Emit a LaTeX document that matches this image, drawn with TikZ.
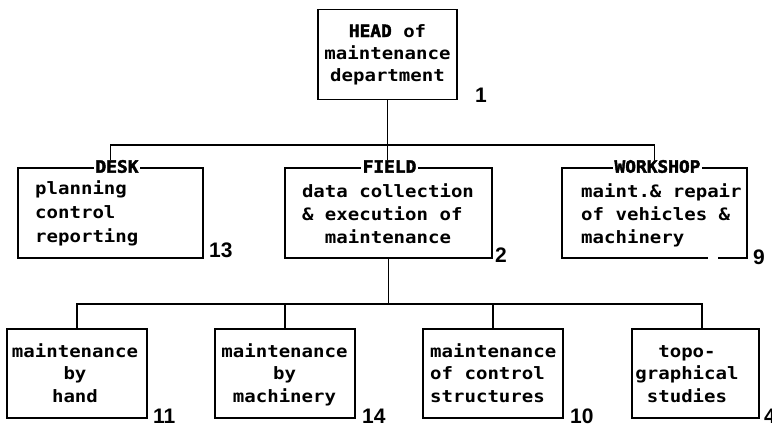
\documentclass[tikz,border=0pt]{standalone}
\usepackage{fontspec}
\newfontfamily\bodyfont{DejaVu Sans Mono}[FakeStretch=1.12]
\newfontfamily\hdrfont{DejaVu Sans Mono}[FakeStretch=1.05, BoldFeatures={FakeBold=2.5}]
\newfontfamily\numfont{Liberation Sans}
\begin{document}
\begin{tikzpicture}[x=1pt,y=-1pt,
  box/.style={draw, line width=1.8pt, inner sep=0pt},
  conn/.style={line width=1.8pt},
  txt/.style={font=\bodyfont\bfseries\fontsize{17}{23}\selectfont, inner sep=0pt},
  hdr/.style={fill=white, font=\hdrfont\bfseries\fontsize{17}{23}\selectfont, inner xsep=1.5pt, inner ysep=0pt},
  num/.style={font=\numfont\bfseries\fontsize{21}{24}\selectfont, inner sep=0pt, anchor=south west}
]
\useasboundingbox (0,0) rectangle (772,426);
% boxes
\node[box, minimum width=139pt, minimum height=90pt] (head) at (387.5,54.5) {};
\node[box, minimum width=185pt, minimum height=90pt] (desk) at (110.5,213) {};
\node[box, minimum width=207pt, minimum height=90pt] (field) at (388.5,213) {};
\node[inner sep=0pt, minimum width=185pt, minimum height=90pt] (wksp) at (654.5,213) {};
\draw[conn] (wksp.south west) ++(146,0) -- (wksp.south west) -- (wksp.north west)
  -- (wksp.north east) -- (wksp.south east) -- ++(-29,0);
\node[box, minimum width=140pt, minimum height=89pt] (m11) at (77,373.5) {};
\node[box, minimum width=140pt, minimum height=89pt] (m14) at (285,373.5) {};
\node[box, minimum width=140pt, minimum height=89pt] (m10) at (493,373.5) {};
\node[box, minimum width=127pt, minimum height=89pt] (m4) at (695.5,373.5) {};
\coordinate (b1) at (388,145);
\coordinate (b2) at (388,304);
\coordinate (c4) at (702,329);
% connectors
\draw[conn] (head.south) -- (head.south |- field.north);
\draw[conn] (desk.north) |- (b1) -| (wksp.north);
\draw[conn] (field.south) -- (field.south |- b2);
\draw[conn] (m11.north) |- (b2) -| (c4);
\draw[conn] (m14.north) -- (m14.north |- b2);
\draw[conn] (m10.north) -- (m10.north |- b2);
% headers
\node[hdr] (hdesk) at (117,166.5) {DESK};
\node[hdr] (hfield) at (389.5,166.5) {FIELD};
\node[hdr] (hwksp) at (657.5,166.5) {WORKSHOP};
% texts (base anchor = baseline of the last line)
\node[txt, align=center, anchor=base, font=\bodyfont\bfseries\fontsize{17}{22}\selectfont] (thead) at (387.5,81) {{\hdrfont\bfseries HEAD} of\\maintenance\\department};
\node[txt, align=left, anchor=base west, font=\bodyfont\bfseries\fontsize{17}{24}\selectfont] (tdesk) at (35,242) {planning\\control\\reporting};
\node[txt, align=center, anchor=base] (tfield) at (388,243) {data collection\\\& execution of\hphantom{x}\\maintenance};
\node[txt, align=left, anchor=base west] (twksp) at (581,243) {maint.\& repair\\of vehicles \&\\machinery};
\node[txt, align=center, anchor=base, font=\bodyfont\bfseries\fontsize{17}{22.5}\selectfont] (t11) at (75,402) {maintenance\\by\\hand};
\node[txt, align=center, anchor=base, font=\bodyfont\bfseries\fontsize{17}{22.5}\selectfont] (t14) at (284.5,402) {maintenance\\by\\machinery};
\node[txt, align=left, anchor=base west, font=\bodyfont\bfseries\fontsize{17}{22.5}\selectfont] (t10) at (430,402) {maintenance\\of control\\structures};
\node[txt, align=center, anchor=base, font=\bodyfont\bfseries\fontsize{17}{22.5}\selectfont] (t4) at (687,402) {topo-\\graphical\\studies};
% numbers
\node[num] (n1) at (475,103) {1};
\node[num] (n13) at (209,258) {13};
\node[num] (n2) at (495,263) {2};
\node[num] (n9) at (753,265) {9};
\node[num] (n11) at (153,424) {11};
\node[num] (n14) at (362,424) {14};
\node[num] (n10) at (570,424) {10};
\node[num] (n4) at (764,424) {4};
\end{tikzpicture}
\end{document}
